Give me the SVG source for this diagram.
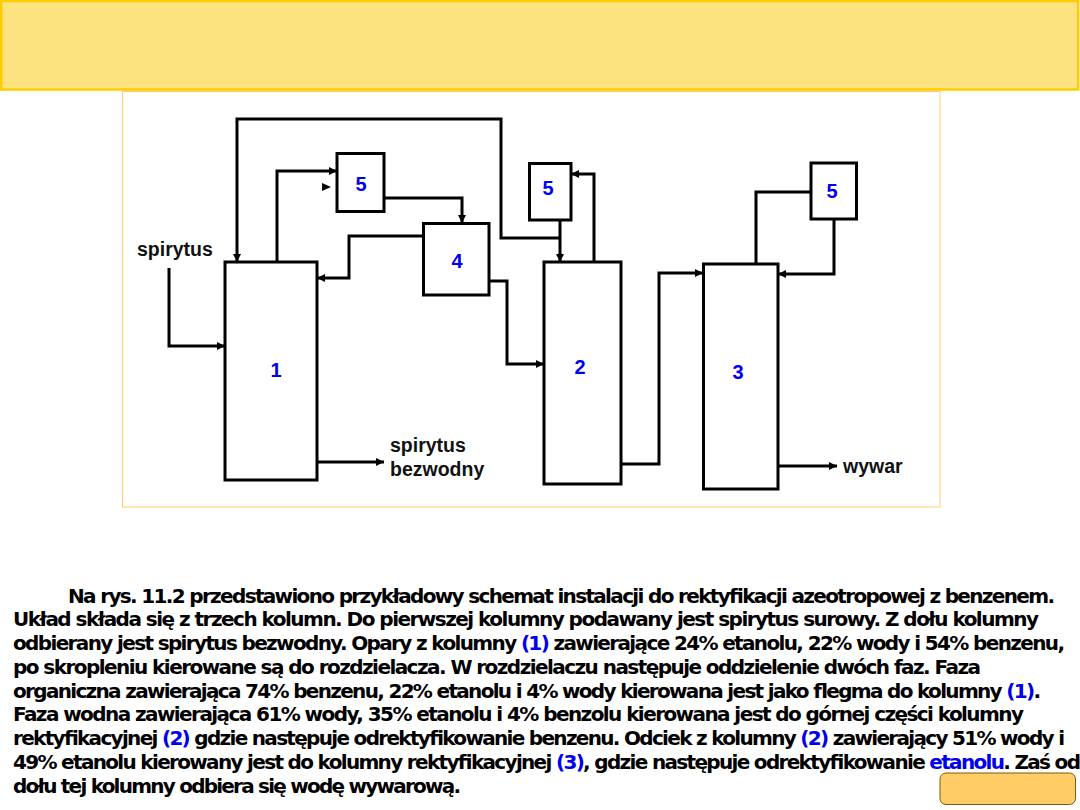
<svg xmlns="http://www.w3.org/2000/svg" width="1080" height="810" viewBox="0 0 1080 810">
<style>
.box{fill:#fff;stroke:#000;stroke-width:3}
.ln{fill:none;stroke:#000;stroke-width:3;stroke-linejoin:miter}
.arr{marker-end:url(#ah)}
.num{font-family:"Liberation Sans",Arial,sans-serif;font-weight:bold;font-size:20px;fill:#0000ee;text-anchor:middle}
.lbl{font-family:"Liberation Sans",Arial,sans-serif;font-weight:bold;font-size:19.5px;fill:#111}
.para{font-family:"DejaVu Sans",Verdana,sans-serif;font-weight:bold;font-size:20px;fill:#000}
.blue{fill:#0000ee}
</style>
<defs>
<marker id="ah" markerUnits="userSpaceOnUse" markerWidth="10" markerHeight="10" refX="8" refY="4" orient="auto">
<path d="M0,0 L8,4 L0,8 z" fill="#000"/>
</marker>
</defs>
<rect x="0" y="0" width="1080" height="810" fill="#fff"/>
<g id="banner">
<rect x="1.2" y="1" width="1077" height="88.5" fill="#FDE37F" stroke="#FFCC00" stroke-width="2.5"/>
</g>
<g id="frame">
<rect x="122.5" y="91.5" width="817.5" height="415.5" fill="#fff" stroke="#FFCC66" stroke-width="1"/>
</g>
<g id="connectors">
<path class="ln arr" d="M169,268 V346 H225"/>
<path class="ln arr" d="M277,262 V171 H337"/>
<path class="ln arr" d="M384,198 H462 V223"/>
<path class="ln arr" d="M424,236 H349 V278 H317"/>
<path class="ln arr" d="M561,238 H501 V119 H237 V262"/>
<path class="ln arr" d="M560,220 V262"/>
<path class="ln arr" d="M594,262 V174 H571"/>
<path class="ln arr" d="M489,281 H507 V364 H544"/>
<path class="ln arr" d="M317,462 H384"/>
<path class="ln arr" d="M621,464 H659 V273 H703"/>
<path class="ln" d="M756,264 V192 H811"/>
<path class="ln arr" d="M834,219 V274 H778"/>
<path class="ln arr" d="M778,466 H837"/>
<polygon points="322,183 331,187 322,191" fill="#000"/>
</g>
<g id="col1"><rect class="box" x="225" y="262" width="92" height="218"/><text class="num" x="276" y="377">1</text></g>
<g id="sep5a"><rect class="box" x="337" y="153.5" width="47" height="58"/><text class="num" x="361" y="191">5</text></g>
<g id="sep4"><rect class="box" x="423.5" y="223.5" width="65.5" height="71.5"/><text class="num" x="457" y="268">4</text></g>
<g id="sep5b"><rect class="box" x="529.5" y="163.5" width="41.5" height="56.5"/><text class="num" x="548" y="194.5">5</text></g>
<g id="col2"><rect class="box" x="544" y="262" width="77" height="222"/><text class="num" x="580" y="373.5">2</text></g>
<g id="col3"><rect class="box" x="703.5" y="264" width="74.5" height="225"/><text class="num" x="738" y="379">3</text></g>
<g id="sep5c"><rect class="box" x="811" y="163" width="45.5" height="56"/><text class="num" x="832" y="198">5</text></g>
<g id="labels">
<text class="lbl" x="137" y="256">spirytus</text>
<text class="lbl" x="390" y="452">spirytus</text>
<text class="lbl" x="390" y="476">bezwodny</text>
<text class="lbl" x="843" y="473">wywar</text>
</g>
<g id="paragraph" class="para">
<text x="68" y="602.5" textLength="987">Na rys. 11.2 przedstawiono przykładowy schemat instalacji do rektyfikacji azeotropowej z benzenem.</text>
<text x="13" y="626.2" textLength="1026">Układ składa się z trzech kolumn. Do pierwszej kolumny podawany jest spirytus surowy. Z dołu kolumny</text>
<text x="13" y="650" textLength="1052">odbierany jest spirytus bezwodny. Opary z kolumny <tspan class="blue">(1)</tspan> zawierające 24% etanolu, 22% wody i 54% benzenu,</text>
<text x="13" y="673.7" textLength="968">po skropleniu kierowane są do rozdzielacza. W rozdzielaczu następuje oddzielenie dwóch faz. Faza</text>
<text x="13" y="697.5" textLength="1028">organiczna zawierająca 74% benzenu, 22% etanolu i 4% wody kierowana jest jako flegma do kolumny <tspan class="blue">(1)</tspan>.</text>
<text x="13" y="721.2" textLength="1011">Faza wodna zawierająca 61% wody, 35% etanolu i 4% benzolu kierowana jest do górnej części kolumny</text>
<text x="13" y="745" textLength="1052">rektyfikacyjnej <tspan class="blue">(2)</tspan> gdzie następuje odrektyfikowanie benzenu. Odciek z kolumny <tspan class="blue">(2)</tspan> zawierający 51% wody i</text>
<text x="13" y="768.7" textLength="1068">49% etanolu kierowany jest do kolumny rektyfikacyjnej <tspan class="blue">(3)</tspan>, gdzie następuje odrektyfikowanie <tspan class="blue">etanolu</tspan>. Zaś od</text>
<text x="13" y="792.5" textLength="448">dołu tej kolumny odbiera się wodę wywarową.</text>
</g>
<g id="corner">
<rect x="940" y="773" width="135.5" height="31.5" rx="6" fill="#FFCC66" stroke="#7A5A10" stroke-width="1"/>
</g>
</svg>
